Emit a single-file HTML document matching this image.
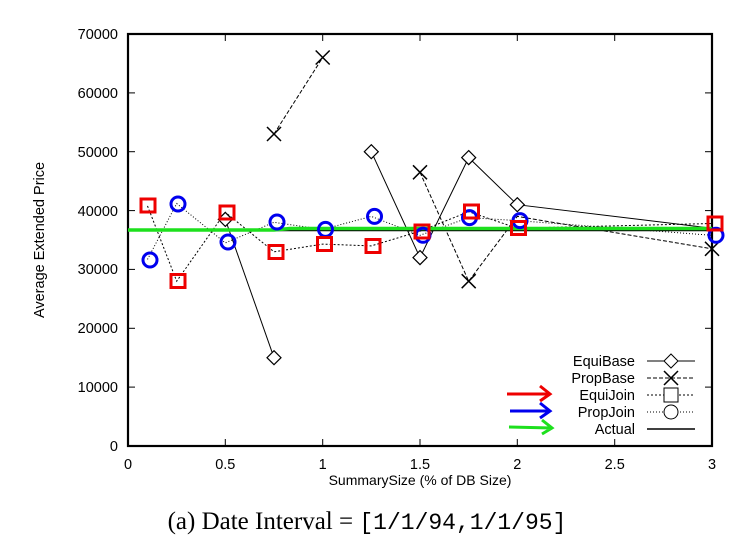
<!DOCTYPE html>
<html><head><meta charset="utf-8"><style>
body{margin:0;background:#fff}
svg{display:block}
text{font-family:"Liberation Sans",Arial,sans-serif;fill:#000}
</style></head><body>
<svg width="735" height="544" viewBox="0 0 735 544" xmlns="http://www.w3.org/2000/svg">
<rect width="735" height="544" fill="#fff"/>
<rect x="128" y="34" width="584" height="412" fill="none" stroke="#000" stroke-width="2.2"/>
<g stroke="#000" stroke-width="1">
<line x1="128" y1="387.1" x2="135" y2="387.1"/><line x1="705" y1="387.1" x2="712" y2="387.1"/>
<line x1="128" y1="328.3" x2="135" y2="328.3"/><line x1="705" y1="328.3" x2="712" y2="328.3"/>
<line x1="128" y1="269.4" x2="135" y2="269.4"/><line x1="705" y1="269.4" x2="712" y2="269.4"/>
<line x1="128" y1="210.6" x2="135" y2="210.6"/><line x1="705" y1="210.6" x2="712" y2="210.6"/>
<line x1="128" y1="151.7" x2="135" y2="151.7"/><line x1="705" y1="151.7" x2="712" y2="151.7"/>
<line x1="128" y1="92.9" x2="135" y2="92.9"/><line x1="705" y1="92.9" x2="712" y2="92.9"/>
<line x1="225.3" y1="446" x2="225.3" y2="439"/><line x1="225.3" y1="34" x2="225.3" y2="41"/>
<line x1="322.7" y1="446" x2="322.7" y2="439"/><line x1="322.7" y1="34" x2="322.7" y2="41"/>
<line x1="420" y1="446" x2="420" y2="439"/><line x1="420" y1="34" x2="420" y2="41"/>
<line x1="517.3" y1="446" x2="517.3" y2="439"/><line x1="517.3" y1="34" x2="517.3" y2="41"/>
<line x1="614.7" y1="446" x2="614.7" y2="439"/><line x1="614.7" y1="34" x2="614.7" y2="41"/>
</g>
<g font-size="14.5" text-anchor="end">
<text x="118" y="451">0</text><text x="118" y="392">10000</text><text x="118" y="333">20000</text>
<text x="118" y="274">30000</text><text x="118" y="216">40000</text><text x="118" y="157">50000</text>
<text x="118" y="98">60000</text><text x="118" y="39">70000</text>
</g>
<g font-size="14.5" text-anchor="middle">
<text x="128" y="469">0</text><text x="225.3" y="469">0.5</text><text x="322.7" y="469">1</text>
<text x="420" y="469">1.5</text><text x="517.3" y="469">2</text><text x="614.7" y="469">2.5</text><text x="712" y="469">3</text>
<text x="420" y="485" font-size="14">SummarySize (% of DB Size)</text>
</g>
<text transform="translate(44,240) rotate(-90)" font-size="14.5" text-anchor="middle">Average Extended Price</text>
<text x="367" y="529" font-size="25" text-anchor="middle" style="font-family:'Liberation Serif',serif">(a) Date Interval = <tspan style="font-family:'Liberation Mono',monospace" font-size="23">[1/1/94,1/1/95]</tspan></text>

<line x1="128" y1="230.5" x2="712" y2="230.5" stroke="#000" stroke-width="1.5"/>
<g fill="none" stroke="#000" stroke-width="1">
<polyline points="225.3,219.4 274,357.7"/>
<polyline points="371.3,151.7 420,257.6 468.7,157.6 517.3,204.7 712,228.2"/>
<polyline stroke-dasharray="4,2" points="274,134 322.7,57.5"/>
<polyline stroke-dasharray="4,2" points="420,172.3 468.7,281.2 517.3,216.4 712,248.8"/>
<polyline stroke-dasharray="2,2" points="147.5,205.9 176.7,281.2 225.3,212.3 274,251.8 322.7,244.1 371.3,245.9 420,231.2 468.7,211.7 517.3,228.2 712,223.5"/>
<polyline stroke-dasharray="1,2" points="147.5,259.4 176.7,203.5 225.3,242.9 274,222.3 322.7,229.4 371.3,216.4 420,235.3 468.7,217.6 517.3,220.6 712,235.3"/>
</g>
<g fill="#fff" stroke="#000" stroke-width="1.2">
<path d="M225.3,212.4 l7,7 -7,7 -7,-7z"/>
<path d="M274,350.7 l7,7 -7,7 -7,-7z"/>
<path d="M371.3,144.7 l7,7 -7,7 -7,-7z"/>
<path d="M420,250.6 l7,7 -7,7 -7,-7z"/>
<path d="M468.7,150.6 l7,7 -7,7 -7,-7z"/>
<path d="M517.3,197.7 l7,7 -7,7 -7,-7z"/>
</g>
<g stroke="#000" stroke-width="1.5">
<path d="M267,127 l14,14 M281,127 l-14,14"/>
<path d="M315.7,50.5 l14,14 M329.7,50.5 l-14,14"/>
<path d="M413,165.3 l14,14 M427,165.3 l-14,14"/>
<path d="M461.7,274.2 l14,14 M475.7,274.2 l-14,14"/>
<path d="M705,241.8 l14,14 M719,241.8 l-14,14"/>
</g>
<polyline points="128,230 274,230 290,228.5 712,228.5" fill="none" stroke="#1de01d" stroke-width="3.5"/>
<g fill="none" stroke="#0000ee" stroke-width="3">
<circle cx="150" cy="260" r="7"/><circle cx="178" cy="204" r="7"/><circle cx="228" cy="242" r="7"/>
<circle cx="277" cy="222" r="7"/><circle cx="325.5" cy="229.4" r="7"/><circle cx="374.5" cy="216.4" r="7"/>
<circle cx="423" cy="235.3" r="7"/><circle cx="469.5" cy="217.6" r="7"/><circle cx="520" cy="220.6" r="7"/>
<circle cx="716" cy="235.3" r="7"/>
</g>
<g fill="none" stroke="#ee0000" stroke-width="3">
<rect x="141" y="199" width="14" height="13"/><rect x="171" y="274.5" width="14" height="13"/>
<rect x="220" y="206" width="14" height="13"/><rect x="269" y="245.5" width="14" height="13"/>
<rect x="317.5" y="237.5" width="14" height="13"/><rect x="366" y="239.5" width="14" height="13"/>
<rect x="415" y="225" width="14" height="13"/><rect x="464.5" y="205" width="14" height="13"/>
<rect x="511.5" y="221.5" width="14" height="13"/><rect x="708" y="217" width="14" height="13"/>
</g>

<g font-size="14.5" text-anchor="end">
<text x="635" y="366">EquiBase</text><text x="635" y="383">PropBase</text><text x="635" y="400">EquiJoin</text>
<text x="635" y="417">PropJoin</text><text x="635" y="434">Actual</text>
</g>
<g stroke="#000" stroke-width="1" fill="none">
<line x1="647" y1="361" x2="695" y2="361"/>
<path d="M671,354 l7,7 -7,7 -7,-7z" fill="#fff"/>
<line x1="647" y1="378" x2="695" y2="378" stroke-dasharray="4,2"/>
<path d="M664,371 l14,14 M678,371 l-14,14" stroke-width="1.5"/>
<line x1="647" y1="395" x2="695" y2="395" stroke-dasharray="2,2"/>
<rect x="664" y="388" width="14" height="14" fill="#fff"/>
<line x1="647" y1="412" x2="695" y2="412" stroke-dasharray="1,2"/>
<circle cx="671" cy="412" r="7" fill="#fff"/>
<line x1="647" y1="429" x2="695" y2="429" stroke-width="1.5"/>
</g>
<g fill="none" stroke-width="3">
<path d="M507,394 L550,394 M540,386 L550,394 540,401" stroke="#ee0000"/>
<path d="M510,411 L550,411 M540,403 L550,411 540,418" stroke="#0000ee"/>
<path d="M509,427 L552,428 M542,420 L552,428 542,434" stroke="#1de01d"/>
</g>
</svg>
</body></html>
